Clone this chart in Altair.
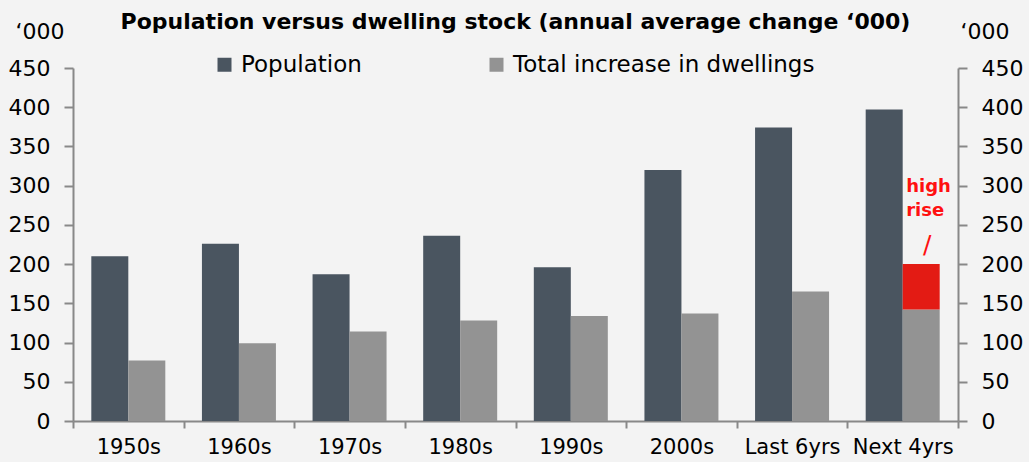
import altair as alt
import pandas as pd

# Annual average change, thousands
categories = ["1950s", "1960s", "1970s", "1980s", "1990s", "2000s", "Last 6yrs", "Next 4yrs"]
population = [210, 226, 187, 236, 196, 320, 374, 397]
dwellings = [77, 99, 114, 128, 134, 137, 165, 142]
high_rise_period = "Next 4yrs"
high_rise = 58  # stacked on the dwelling bar, taking it to 200

series_names = ["Population", "Total increase in dwellings", "High rise"]
series_colors = ["#4a5560", "#939393", "#e31b14"]
y_ticks = [0, 50, 100, 150, 200, 250, 300, 350, 400, 450]

rows = []
for c, p, d in zip(categories, population, dwellings):
    rows.append({"period": c, "group": "pop", "series": series_names[0], "order": 0, "value": p})
    rows.append({"period": c, "group": "dw", "series": series_names[1], "order": 1, "value": d})
rows.append({"period": high_rise_period, "group": "dw", "series": series_names[2], "order": 2, "value": high_rise})
bars_df = pd.DataFrame(rows)

note_df = pd.DataFrame([
    {"period": high_rise_period, "group": "dw", "value": 292, "label": ["high", "rise"]},
])
slash_df = pd.DataFrame([
    {"period": high_rise_period, "group": "dw", "value": 225, "label": "/"},
])

FONT = "DejaVu Sans"
AXIS_GREY = "#888888"

x_enc = alt.X(
    "period:N", sort=categories,
    scale=alt.Scale(paddingInner=0, paddingOuter=0),
    axis=alt.Axis(title=None, tickBand="extent", labelAngle=0, labelFont=FONT,
                  labelFontSize=21, labelColor="black", domainColor=AXIS_GREY,
                  domainWidth=2, tickColor=AXIS_GREY, tickWidth=2, tickSize=7,
                  labelPadding=8, grid=False),
)
xoff_enc = alt.XOffset("group:N", sort=["pop", "dw"],
                       scale=alt.Scale(paddingInner=0, paddingOuter=0.495))
y_scale = alt.Scale(domain=[0, 450], nice=False)


def y_axis(orient, title_x):
    return alt.Axis(orient=orient, values=y_ticks, title="‘000", titleAngle=0,
                    titleX=title_x, titleY=-30, titleAlign="left",
                    titleBaseline="alphabetic", titleFont=FONT,
                    titleFontWeight="normal", titleFontSize=22, titleColor="black",
                    labelFont=FONT, labelFontSize=22, labelColor="black",
                    labelPadding=14, tickSize=9, tickWidth=2, tickColor=AXIS_GREY,
                    domainColor=AXIS_GREY, domainWidth=2, grid=False)


bars = alt.Chart(bars_df).mark_bar().encode(
    x=x_enc,
    xOffset=xoff_enc,
    y=alt.Y("value:Q", stack="zero", scale=y_scale, axis=y_axis("left", -58)),
    color=alt.Color(
        "series:N",
        scale=alt.Scale(domain=series_names, range=series_colors),
        legend=alt.Legend(orient="none", legendX=140, legendY=-15,
                          direction="horizontal", title=None,
                          values=series_names[:2], symbolType="square",
                          symbolSize=196, symbolStrokeWidth=0,
                          labelFont=FONT, labelFontSize=23, labelColor="black",
                          labelLimit=500, labelOffset=5, columnPadding=123),
    ),
    order=alt.Order("order:Q"),
)

right_axis = alt.Chart(bars_df).mark_bar(opacity=0).encode(
    x=x_enc,
    xOffset=xoff_enc,
    y=alt.Y("value:Q", stack="zero", scale=y_scale, axis=y_axis("right", 2)),
)

note = alt.Chart(note_df).mark_text(
    align="left", baseline="alphabetic", dx=-15, font=FONT, fontSize=18,
    fontWeight="bold", color="#ff1010", lineHeight=24,
).encode(
    x=x_enc, xOffset=xoff_enc,
    y=alt.Y("value:Q", stack=None, scale=y_scale, axis=None),
    text="label",
)

slash = alt.Chart(slash_df).mark_text(
    align="center", baseline="middle", dx=6, font=FONT, fontSize=25,
    color="#ff1010",
).encode(
    x=x_enc, xOffset=xoff_enc,
    y=alt.Y("value:Q", stack=None, scale=y_scale, axis=None),
    text="label:N",
)

chart = alt.layer(bars, right_axis, note, slash).resolve_axis(
    y="independent"
).properties(
    width=885,
    height=353,
    title=alt.TitleParams(
        "Population versus dwelling stock (annual average change ‘000)",
        font=FONT, fontSize=22, fontWeight="bold", color="black",
        anchor="middle", frame="group", offset=10, dy=24,
    ),
    autosize=alt.AutoSizeParams(type="none"),
    padding={"left": 73, "top": 68, "right": 71, "bottom": 41},
    background="#f3f3f3",
).configure_view(stroke=None)

chart.save("out.html", embed_options={"renderer": "svg", "actions": False})
